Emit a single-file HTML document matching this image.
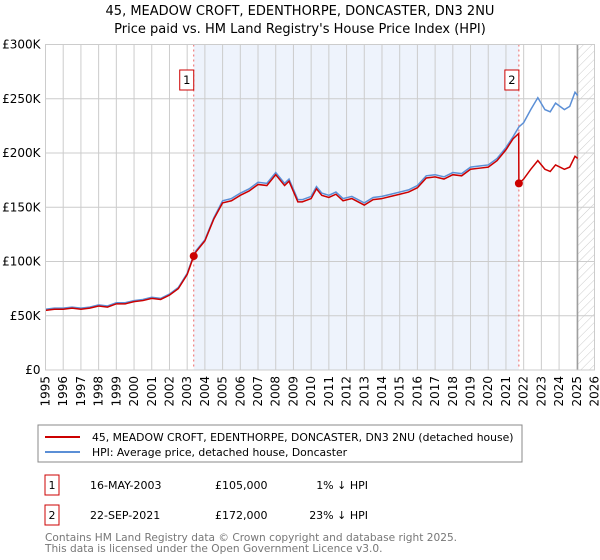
<!DOCTYPE html>
<html><head><meta charset="utf-8"><style>
body{margin:0;background:#fff;font-family:"Liberation Sans","DejaVu Sans",sans-serif;}
#wrap{position:relative;width:600px;height:560px;overflow:hidden;}
svg text{font-family:"DejaVu Sans","Liberation Sans",sans-serif;}
</style></head><body><div id="wrap">
<svg id="chart" width="600" height="560">
<defs><pattern id="hatch" width="6" height="6" patternUnits="userSpaceOnUse" patternTransform="rotate(45)"><line x1="0" y1="0" x2="0" y2="6" stroke="#ccc" stroke-width="1"/></pattern></defs>
<text x="300" y="15" text-anchor="middle" font-size="13">45, MEADOW CROFT, EDENTHORPE, DONCASTER, DN3 2NU</text>
<text x="300" y="33" text-anchor="middle" font-size="13">Price paid vs. HM Land Registry's House Price Index (HPI)</text>
<g id="plot"></g>
<rect x="38" y="425" width="484" height="37" fill="#fff" stroke="#888"/>
<line x1="45" y1="437" x2="80" y2="437" stroke="#cc0000" stroke-width="2"/>
<text x="92" y="441" font-size="10.8">45, MEADOW CROFT, EDENTHORPE, DONCASTER, DN3 2NU (detached house)</text>
<line x1="45" y1="452" x2="80" y2="452" stroke="#5b8fd6" stroke-width="2"/>
<text x="92" y="456" font-size="10.8">HPI: Average price, detached house, Doncaster</text>
<g font-size="11">
<rect x="45" y="475" width="14" height="20" fill="#fff" stroke="#cc0000"/>
<text x="52" y="489" text-anchor="middle">1</text>
<text x="90" y="489">16-MAY-2003</text>
<text x="215" y="489">£105,000</text>
<text x="368" y="489" text-anchor="end">1% ↓ HPI</text>
<rect x="45" y="505" width="14" height="20" fill="#fff" stroke="#cc0000"/>
<text x="52" y="519" text-anchor="middle">2</text>
<text x="90" y="519">22-SEP-2021</text>
<text x="215" y="519">£172,000</text>
<text x="368" y="519" text-anchor="end">23% ↓ HPI</text>
</g>
<text x="45" y="541" font-size="10.6" fill="#777">Contains HM Land Registry data © Crown copyright and database right 2025.</text>
<text x="45" y="552" font-size="10.6" fill="#777">This data is licensed under the Open Government Licence v3.0.</text>
</svg></div>
<script>
const hpiDates=[1995,1995.5,1996,1996.5,1997,1997.5,1998,1998.5,1999,1999.5,2000,2000.5,2001,2001.5,2002,2002.5,2003,2003.37,2003.5,2004,2004.5,2005,2005.5,2006,2006.5,2007,2007.5,2008,2008.5,2008.75,2009.25,2009.5,2010,2010.3,2010.6,2011,2011.4,2011.8,2012.3,2013,2013.5,2014,2014.5,2015,2015.5,2016,2016.5,2017,2017.5,2018,2018.5,2019,2019.5,2020,2020.5,2021,2021.4,2021.73,2022,2022.4,2022.8,2023.2,2023.5,2023.8,2024.3,2024.6,2024.9,2025.05];
const hpiValues=[56,57,57,58,57,58,60,59,62,62,64,65,67,66,70,76,89,106,110,120,140,156,158,163,167,173,172,182,172,176,157,157,160,169,163,161,164,158,160,154,159,160,162,164,166,170,179,180,178,182,181,187,188,189,195,205,215,224,228,240,251,240,238,246,240,243,256,253];
const priceDates=[1995,1995.5,1996,1996.5,1997,1997.5,1998,1998.5,1999,1999.5,2000,2000.5,2001,2001.5,2002,2002.5,2003,2003.37,2003.5,2004,2004.5,2005,2005.5,2006,2006.5,2007,2007.5,2008,2008.5,2008.75,2009.25,2009.5,2010,2010.3,2010.6,2011,2011.4,2011.8,2012.3,2013,2013.5,2014,2014.5,2015,2015.5,2016,2016.5,2017,2017.5,2018,2018.5,2019,2019.5,2020,2020.5,2021,2021.4,2021.72,2021.73,2022,2022.4,2022.8,2023.2,2023.5,2023.8,2024.3,2024.6,2024.9,2025.05];
const priceValues=[55,56,56,57,56,57,59,58,61,61,63,64,66,65,69,75,88,105,109,119,139,154,156,161,165,171,170,180,170,174,155,155,158,167,161,159,162,156,158,152,157,158,160,162,164,168,177,178,176,180,179,185,186,187,193,203,213,218,172,176,185,193,185,183,189,185,187,197,195];
const sales=[[2003.37,105],[2021.73,172]];
const yTicks=[0,50,100,150,200,250,300];
const yLabels=["£0","£50K","£100K","£150K","£200K","£250K","£300K"];
const xTicks=[1995,1996,1997,1998,1999,2000,2001,2002,2003,2004,2005,2006,2007,2008,2009,2010,2011,2012,2013,2014,2015,2016,2017,2018,2019,2020,2021,2022,2023,2024,2025,2026];
const X0=45.5,X1=594.5,Y0=370,Y1=44.5;
const xs=t=>X0+(t-1995)/31*(X1-X0);
const ys=v=>Y0-v/300*(Y0-Y1);
const NS="http://www.w3.org/2000/svg";
const g=document.getElementById('plot');
function mk(tag,attrs,name){const e=document.createElementNS(NS,tag);for(const k in attrs)e.setAttribute(k,attrs[k]);


g.appendChild(e);return e;}
mk('rect',{x:xs(sales[0][0]),y:Y1,width:xs(sales[1][0])-xs(sales[0][0]),height:Y0-Y1,fill:'#eef3fc'},'ownership-shade');
mk('rect',{x:xs(2025.05),y:Y1,width:X1-xs(2025.05),height:Y0-Y1,fill:'url(#hatch)'},'forecast-hatch');
yTicks.forEach((v,i)=>{mk('line',{x1:X0,x2:X1,y1:ys(v),y2:ys(v),stroke:'#ccc'},'y-gridline');
const t=mk('text',{x:X0-5,y:ys(v)+4,'text-anchor':'end','font-size':12},'y-tick-label');t.textContent=yLabels[i];});
xTicks.forEach(yr=>{mk('line',{x1:xs(yr),x2:xs(yr),y1:Y1,y2:Y0,stroke:'#ccc'},'x-gridline');
const t=mk('text',{x:0,y:0,'text-anchor':'end','font-size':12,transform:`translate(${xs(yr)+4},${Y0+6}) rotate(-90)`},'x-tick-label');t.textContent=yr;});
mk('line',{x1:xs(2025.05),x2:xs(2025.05),y1:Y1,y2:Y0,stroke:'#999',"stroke-width":1.2},'latest-data-line');
sales.forEach((s,i)=>{mk('line',{x1:xs(s[0]),x2:xs(s[0]),y1:Y1,y2:Y0,stroke:'#e66','stroke-dasharray':'2,3'},'sale-marker-line');
mk('rect',{x:xs(s[0])-14,y:70,width:14,height:20,fill:'#fff',stroke:'#cc0000'},'sale-label-box');
const t=mk('text',{x:xs(s[0])-7,y:84,'text-anchor':'middle','font-size':11.5},'sale-label');t.textContent=i+1;});
mk('polyline',{points:hpiDates.map((d,i)=>xs(d)+','+ys(hpiValues[i])).join(' '),fill:'none',stroke:'#5b8fd6','stroke-width':1.5},'hpi-line');
mk('polyline',{points:priceDates.map((d,i)=>xs(d)+','+ys(priceValues[i])).join(' '),fill:'none',stroke:'#cc0000','stroke-width':1.5},'price-line');
sales.forEach(s=>mk('circle',{cx:xs(s[0]),cy:ys(s[1]),r:4,fill:'#cc0000'},'sale-point'));
mk('rect',{x:X0,y:Y1,width:X1-X0,height:Y0-Y1,fill:'none',stroke:'#ccc'},'plot-border');
</script></body></html>
